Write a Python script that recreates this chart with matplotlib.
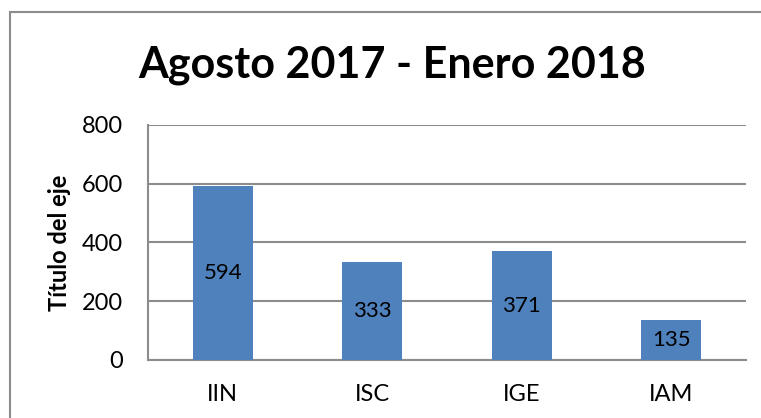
import matplotlib.pyplot as plt
from matplotlib.patches import Rectangle

# --- Data ---
categories = ['IIN', 'ISC', 'IGE', 'IAM']
values = [594, 333, 371, 135]
yticks = [0, 200, 400, 600, 800]

W, H = 761, 418
fig = plt.figure(figsize=(W / 100, H / 100), dpi=100)
plt.rcParams['font.family'] = ['Lato', 'DejaVu Sans']

# chart frame (only top and left visible in the crop)
frame = Rectangle((10 / W, -0.2), 1.2, 0.2 + 1 - 12 / H, transform=fig.transFigure,
                  fill=False, edgecolor='#8c8c8c', linewidth=1.5)
fig.patches.append(frame)

ax = fig.add_axes([148 / W, 1 - 360 / H, (746 - 148) / W, (360 - 125) / H])
x = list(range(len(categories)))
bars = ax.bar(x, values, width=0.4, color='#4F81BD', zorder=3)
for b, v in zip(bars, values):
    ax.text(b.get_x() + b.get_width() / 2, v / 2, str(v), ha='center', va='center',
            fontsize=16, color='black', zorder=4)

ax.set_xlim(-0.5, len(categories) - 0.5)
ax.set_ylim(0, 800)
ax.set_yticks(yticks)
ax.set_xticks(x)
ax.set_xticklabels(categories)
ax.tick_params(axis='both', length=0, labelsize=17, colors='black')
ax.tick_params(axis='y', pad=18)
ax.tick_params(axis='x', pad=17)
ax.yaxis.grid(True, color='#8c8c8c', linewidth=1.5, zorder=0)
for s in ['top', 'right']:
    ax.spines[s].set_visible(False)
for s in ['left', 'bottom']:
    ax.spines[s].set_color('#8c8c8c')
    ax.spines[s].set_linewidth(1.5)

ax.set_ylabel('Título del eje', fontsize=17, fontweight='bold', va='center')
ax.yaxis.set_label_coords((60 - 148) / 598, 0.5)

fig.text(392 / W, 1 - 65 / H, 'Agosto 2017 - Enero 2018', ha='center', va='center',
         fontsize=31, fontweight='bold')

fig.savefig('out.png', dpi=100)
